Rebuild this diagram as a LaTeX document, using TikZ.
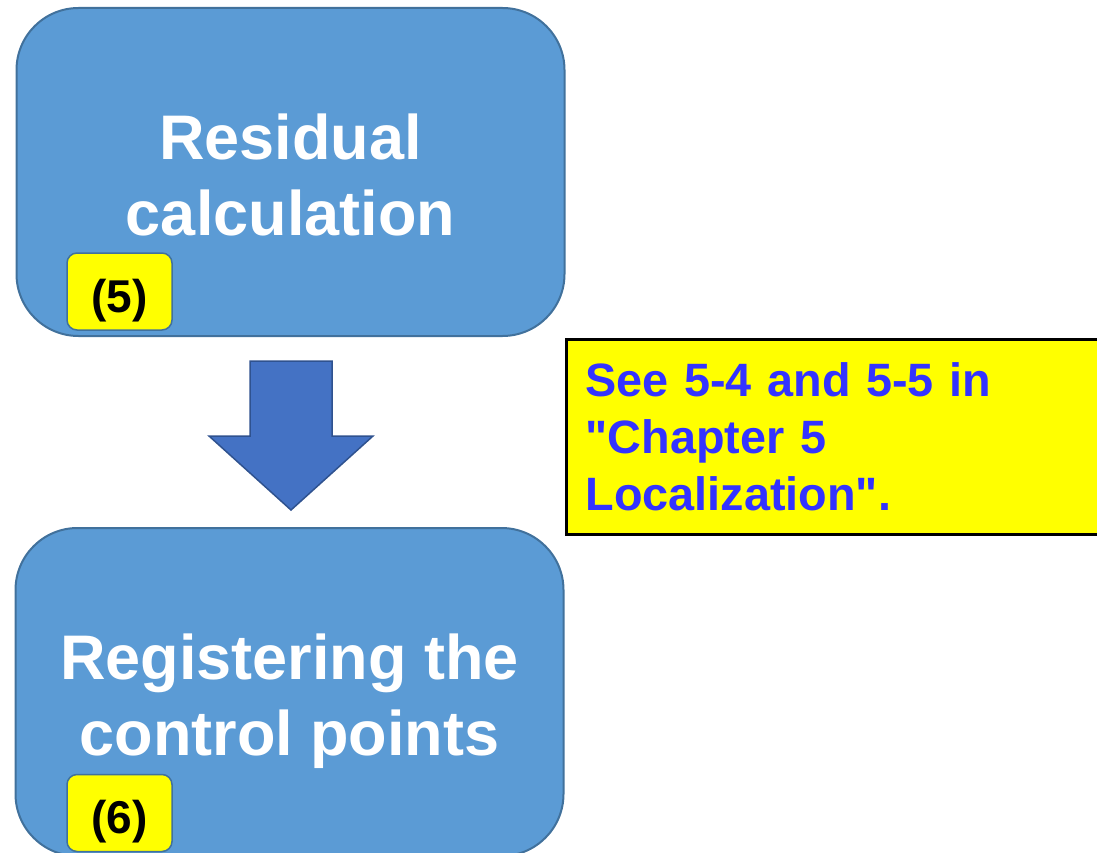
\documentclass[tikz,border=0pt]{standalone}
\usepackage{fontspec}
\setmainfont{Liberation Sans}[Ligatures=TeXOff]
\usetikzlibrary{calc}
\definecolor{boxfill}{HTML}{5B9BD5}
\definecolor{boxline}{HTML}{41719C}
\definecolor{arrfill}{HTML}{4472C4}
\definecolor{arrline}{HTML}{2F528F}
\definecolor{notetext}{HTML}{3333FF}
\definecolor{hiyellow}{HTML}{FFFF00}
\tikzset{
  bigbox/.style={draw=boxline, line width=2pt, fill=boxfill, rounded corners=62pt,
    minimum width=548pt, minimum height=328pt, inner sep=0pt},
  boxtext/.style={align=center, text=white, inner sep=0pt,
    font=\fontsize{63}{76}\selectfont\bfseries},
  badge/.style={draw=boxline, line width=1.5pt, fill=hiyellow, rounded corners=10pt,
    minimum width=105pt, minimum height=77pt, inner sep=0pt},
  badgetext/.style={text=black, inner sep=0pt, font=\fontsize{46}{50}\selectfont\bfseries},
  notebox/.style={draw=black, line width=3pt, fill=hiyellow, minimum width=548pt,
    minimum height=195pt, text width=510pt, inner xsep=18pt, align=left,
    text=notetext, font=\fontsize{46.8}{57}\selectfont\bfseries},
  blockarrow/.style={draw=arrline, line width=1.5pt, fill=arrfill, line join=miter}
}
\begin{document}
\begin{tikzpicture}[x=1pt,y=-1pt]
\useasboundingbox (0,0) rectangle (1097,853);
\clip (0,0) rectangle (1097,853);
\node[bigbox] (top) at (290.5,172) {};
\node[boxtext] (toptext) at ($(top.center)+(0,3)$) {Residual\\calculation};
\node[bigbox] (bot) at (289.5,692) {};
\node[boxtext] (bottext) at ($(bot.center)+(0,9)$) {Registering the\\control points};
\node[badge] (b5) at (119.5,291.5) {};
\node[badgetext] (b5text) at ($(b5.center)+(0,9)$) {(5)};
\node[badge] (b6) at (119.5,813) {};
\node[badgetext] (b6text) at ($(b6.center)+(0,9)$) {(6)};
\node[notebox, anchor=north west] (note) at (565,338) {See 5-4 and 5-5 in\\"Chapter 5\\Localization".};
\coordinate (atop) at ($(top.south)+(0.5,24)$);
\coordinate (atip) at ($(bot.north)+(1.5,-17)$);
\draw[blockarrow] ($(atop)+(-41,0)$) -- ($(atop)+(41,0)$) -- ($(atop)+(41,75)$)
  -- ($(atop)+(82,75)$) -- (atip) -- ($(atop)+(-82,75)$) -- ($(atop)+(-41,75)$) -- cycle;
\end{tikzpicture}
\end{document}
